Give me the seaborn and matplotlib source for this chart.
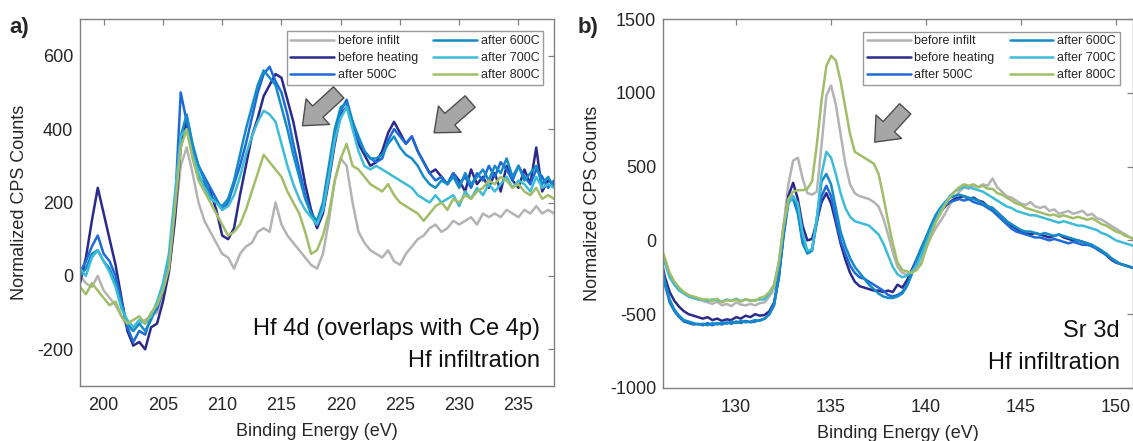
import numpy as np
import pandas as pd
import seaborn as sns
import matplotlib.pyplot as plt

#######   data   #########################################

labels = ["before infilt", "before heating", "after 500C", "after 600C", "after 700C", "after 800C"]
colors = ["#b3b3b3", "#2b2a8c", "#1f6ad9", "#138cc7", "#3dbcd8", "#a2bd68"]

# panel a) Hf 4d, 0.5 eV steps
energy_a = np.arange(198, 238.01, 0.5)
a_before_infilt = [0, -20, -30, 0, -40, -60, -80, -110, -140, -150,
                   -130, -120, -110, -100, -50, 10, 150, 300, 350, 280,
                   200, 150, 120, 90, 60, 50, 20, 60, 80, 90,
                   120, 130, 120, 200, 140, 110, 90, 70, 50, 30,
                   20, 60, 150, 260, 320, 300, 200, 120, 90, 70,
                   60, 50, 70, 40, 30, 60, 80, 100, 110, 130,
                   140, 120, 130, 150, 140, 150, 160, 140, 170, 160,
                   170, 160, 180, 170, 160, 180, 170, 190, 170, 180,
                   170]
a_before_heating = [-20, 50, 150, 240, 170, 100, 30, -60, -150, -190,
                    -180, -200, -140, -130, -70, 10, 150, 350, 420, 330,
                    270, 250, 230, 180, 110, 100, 130, 220, 300, 380,
                    430, 490, 520, 550, 540, 480, 420, 340, 250, 180,
                    130, 170, 260, 360, 440, 460, 420, 360, 330, 300,
                    310, 340, 390, 420, 390, 360, 380, 340, 310, 280,
                    290, 270, 250, 280, 260, 230, 290, 250, 270, 240,
                    280, 230, 300, 260, 240, 290, 250, 350, 230, 260,
                    250]
a_after_500 = [10, 40, 80, 110, 60, 40, 0, -70, -140, -180,
               -150, -160, -110, -90, -40, 30, 180, 500, 420, 350,
               300, 270, 240, 210, 180, 200, 250, 300, 360, 430,
               500, 550, 570, 530, 500, 440, 360, 290, 220, 170,
               140, 180, 270, 380, 450, 480, 420, 370, 340, 320,
               310, 320, 370, 400, 380, 360, 380, 340, 310, 280,
               260, 270, 250, 280, 250, 270, 240, 280, 260, 300,
               270, 310, 290, 260, 300, 270, 250, 290, 270, 240,
               260]
a_after_600 = [0, 20, 60, 70, 40, 20, -20, -80, -130, -150,
               -130, -150, -120, -80, -30, 40, 200, 380, 440, 360,
               300, 260, 220, 200, 190, 210, 260, 330, 400, 460,
               520, 560, 540, 520, 460, 400, 330, 270, 210, 170,
               150, 200, 300, 400, 460, 470, 420, 380, 340, 320,
               320, 330, 360, 380, 350, 330, 320, 300, 270, 250,
               240, 260, 250, 270, 240, 280, 250, 270, 290, 260,
               300, 280, 320, 270, 300, 260, 280, 300, 250, 270,
               240]
a_after_700 = [20, 0, 50, 70, 40, 10, -30, -90, -120, -140,
               -120, -130, -110, -70, -20, 60, 220, 380, 400, 330,
               280, 240, 210, 200, 180, 190, 220, 270, 330, 380,
               420, 450, 440, 420, 360, 300, 250, 210, 180, 160,
               140, 180, 270, 370, 430, 460, 400, 340, 300, 290,
               300, 290, 280, 270, 260, 250, 240, 220, 210, 200,
               220, 200, 210, 220, 190, 230, 210, 240, 220, 250,
               230, 250, 270, 240, 260, 250, 230, 270, 240, 250,
               240]
a_after_800 = [-30, -50, -20, -40, -60, -80, -70, -110, -130, -120,
               -110, -130, -100, -80, -40, 20, 180, 350, 400, 320,
               260, 230, 200, 170, 140, 110, 120, 140, 180, 230,
               280, 330, 310, 290, 270, 230, 200, 170, 120, 60,
               70, 110, 170, 260, 320, 360, 300, 290, 270, 250,
               240, 230, 250, 220, 200, 190, 180, 170, 150, 170,
               190, 200, 180, 210, 200, 220, 210, 230, 240, 260,
               250, 270, 260, 240, 250, 230, 220, 240, 210, 220,
               210]

# panel b) Sr 3d, 0.25 eV steps
energy_b = np.arange(126, 151.01, 0.25)
b_before_infilt = [-40, -150, -250, -300, -330, -360, -380, -390, -400, -410,
                   -420, -430, -415, -440, -430, -445, -420, -435, -440, -430,
                   -440, -425, -420, -380, -330, -200, 100, 380, 540, 560,
                   420, 320, 310, 330, 650, 980, 1050, 920, 720, 520,
                   380, 320, 300, 290, 280, 260, 230, 150, 40, -80,
                   -180, -220, -230, -210, -200, -140, -50, 20, 80, 130,
                   180, 240, 290, 330, 360, 350, 370, 360, 380, 370,
                   420, 360, 330, 300, 290, 270, 250, 240, 260, 230,
                   220, 230, 200, 210, 180, 190, 200, 180, 190, 200,
                   170, 180, 150, 140, 120, 100, 80, 60, 40, 20,
                   0]
b_before_heating = [-100, -250, -350, -410, -450, -480, -500, -510, -520, -530,
                    -520, -540, -530, -545, -535, -540, -520, -530, -510, -520,
                    -500, -510, -505, -480, -420, -250, 50, 300, 390, 280,
                    100, 0, 10, 130, 260, 320, 250, 120, -20, -130,
                    -220, -280, -310, -320, -330, -340, -340, -350, -340, -350,
                    -300, -320, -270, -200, -130, -60, 0, 70, 130, 190,
                    230, 260, 280, 290, 300, 280, 290, 270, 260, 230,
                    220, 190, 160, 130, 100, 80, 60, 50, 40, 50,
                    40, 30, 20, 30, 40, 20, 10, 0, 0, -10,
                    -20, -40, -50, -70, -100, -130, -150, -160, -170, -180,
                    -190]
b_after_500 = [-150, -300, -420, -480, -520, -550, -560, -570, -565, -575,
               -560, -575, -560, -570, -555, -565, -550, -560, -545, -555,
               -550, -540, -530, -500, -440, -250, 30, 250, 300, 200,
               0, -80, -60, 120, 300, 370, 300, 150, 0, -90,
               -170, -220, -250, -260, -280, -300, -320, -340, -370, -380,
               -370, -350, -300, -220, -130, -50, 20, 90, 150, 200,
               240, 260, 270, 280, 270, 280, 260, 250, 240, 220,
               200, 170, 140, 110, 80, 60, 50, 40, 30, 20,
               20, 10, 0, 10, 0, -10, -20, -10, -20, -30,
               -30, -40, -60, -80, -100, -120, -150, -160, -170, -180,
               -190]
b_after_600 = [-120, -280, -400, -470, -510, -540, -550, -560, -570, -565,
               -575, -560, -570, -555, -565, -550, -560, -545, -555, -550,
               -540, -545, -530, -500, -430, -230, 50, 270, 280, 180,
               -20, -90, -70, 150, 400, 450, 380, 220, 60, -40,
               -120, -180, -220, -260, -300, -330, -360, -380, -390, -390,
               -380, -360, -310, -230, -140, -60, 20, 100, 170, 220,
               260, 290, 300, 310, 300, 290, 280, 270, 250, 230,
               220, 190, 160, 130, 110, 90, 70, 60, 60, 50,
               40, 50, 40, 30, 40, 30, 20, 10, 0, -10,
               -20, -30, -50, -70, -90, -120, -140, -160, -170, -180,
               -190]
b_after_700 = [-50, -150, -250, -300, -340, -360, -380, -390, -400, -400,
               -410, -400, -405, -415, -400, -410, -395, -410, -400, -410,
               -405, -400, -400, -360, -300, -150, 100, 250, 300, 250,
               50, -70, -60, 150, 450, 600, 560, 450, 320, 220,
               160, 130, 120, 110, 100, 70, 40, -20, -100, -180,
               -230, -250, -240, -210, -170, -100, -20, 60, 130, 200,
               250, 300, 330, 350, 360, 360, 350, 340, 330, 310,
               290, 270, 250, 230, 220, 200, 190, 180, 170, 170,
               160, 150, 140, 130, 120, 130, 120, 110, 100, 100,
               90, 80, 70, 50, 40, 20, 0, -10, -20, -30,
               -40]
b_after_800 = [-30, -120, -220, -280, -320, -350, -370, -380, -390, -400,
               -400, -410, -395, -420, -405, -410, -400, -415, -400, -405,
               -410, -390, -380, -350, -300, -150, 100, 280, 330, 340,
               340, 350, 400, 650, 950, 1180, 1250, 1220, 1080, 900,
               720, 600, 580, 560, 540, 520, 450, 300, 130, -20,
               -150, -200, -210, -220, -200, -160, -60, 30, 120, 180,
               240, 290, 330, 360, 380, 370, 380, 360, 370, 350,
               350, 320, 310, 290, 270, 250, 240, 220, 210, 200,
               190, 180, 170, 175, 160, 170, 160, 150, 160, 150,
               140, 150, 130, 110, 100, 80, 60, 50, 30, 20,
               10]


def long_table(energy, series):
    frames = []
    for name, vals in zip(labels, series):
        frames.append(pd.DataFrame({"energy": energy, "counts": vals, "sample": name}))
    return pd.concat(frames, ignore_index=True)


df_a = long_table(energy_a, [a_before_infilt, a_before_heating, a_after_500,
                             a_after_600, a_after_700, a_after_800])
df_b = long_table(energy_b, [b_before_infilt, b_before_heating, b_after_500,
                             b_after_600, b_after_700, b_after_800])

sns.set_theme(style="white")
plt.rcParams['font.family'] = ['Liberation Sans', 'DejaVu Sans']
plt.rcParams['axes.unicode_minus'] = False  # plain hyphen like the original

fig = plt.figure(figsize=(11.33, 4.41), dpi=100)
ax_a = fig.add_axes([0.0706, 0.1247, 0.4184, 0.8322])
ax_b = fig.add_axes([0.5852, 0.1202, 0.4148, 0.8367])


def style_axes(ax, xlim, ylim, xticks, yticks):
    ax.set_xlim(xlim)
    ax.set_ylim(ylim)
    ax.set_xticks(xticks)
    ax.set_yticks(yticks)
    ax.tick_params(direction="in", length=4, width=0.9, color="#808080",
                   top=True, right=True, labelsize=13, labelcolor="#262626")
    ax.tick_params(axis="x", pad=8)
    ax.tick_params(axis="y", pad=5)
    for s in ax.spines.values():
        s.set_color("#808080")
        s.set_linewidth(1.0)
    ax.set_xlabel("Binding Energy (eV)", fontsize=13, color="#262626")
    ax.set_ylabel("Normalized CPS Counts", fontsize=13, color="#262626")


for ax, df in [(ax_a, df_a), (ax_b, df_b)]:
    sns.lineplot(data=df, x="energy", y="counts", hue="sample", hue_order=labels,
                 palette=colors, lw=1.8, ax=ax)

style_axes(ax_a, (198, 238), (-300, 700), [200, 205, 210, 215, 220, 225, 230, 235],
           [-200, 0, 200, 400, 600])
style_axes(ax_b, (126.15, 150.9), (-1000, 1500), [130, 135, 140, 145, 150],
           [-1000, -500, 0, 500, 1000, 1500])
ax_a.xaxis.set_label_coords(0.5, -0.1)
ax_a.yaxis.set_label_coords(-0.11, 0.5)
ax_b.xaxis.set_label_coords(0.5, -0.1)
ax_b.yaxis.set_label_coords(-0.132, 0.5)

# legends
for ax, anchor in [(ax_a, (0.99, 0.983)), (ax_b, (0.985, 0.983))]:
    h, l = ax.get_legend_handles_labels()
    leg = ax.legend(h, l, ncol=2, loc="upper right", bbox_to_anchor=anchor,
                    fontsize=9, handlelength=3.5, handletextpad=0.3,
                    columnspacing=1.2, labelspacing=0.4, borderpad=0.3,
                    frameon=True, fancybox=False, edgecolor="#808080")
    leg.get_frame().set_linewidth(1.0)

# grey arrows
arrow = dict(arrowstyle="simple,head_length=0.75,head_width=1.25,tail_width=0.55",
             fc="#a6a6a6", ec="#4d4d4d", lw=1.0, mutation_scale=20)
ax_a.annotate("", xy=(216.6, 404), xytext=(220.0, 505), arrowprops=arrow)
ax_a.annotate("", xy=(227.7, 385), xytext=(231.1, 480), arrowprops=arrow)
ax_b.annotate("", xy=(137.2, 652), xytext=(139.0, 905), arrowprops=arrow)

# panel notes
note = dict(ha="right", va="baseline", fontsize=17, color="#111111")
ax_a.text(0.970, 0.139, "Hf 4d (overlaps with Ce 4p)", transform=ax_a.transAxes, **note)
ax_a.text(0.970, 0.052, "Hf infiltration", transform=ax_a.transAxes, **note)
ax_b.text(0.972, 0.139, "Sr 3d", transform=ax_b.transAxes, **note)
ax_b.text(0.972, 0.052, "Hf infiltration", transform=ax_b.transAxes, **note)

fig.text(0.008, 1 - 33 / 441, "a)", fontsize=16, fontweight="bold", va="baseline")
fig.text(578 / 1133, 1 - 33 / 441, "b)", fontsize=16, fontweight="bold", va="baseline")

fig.savefig("out.png", dpi=100)
